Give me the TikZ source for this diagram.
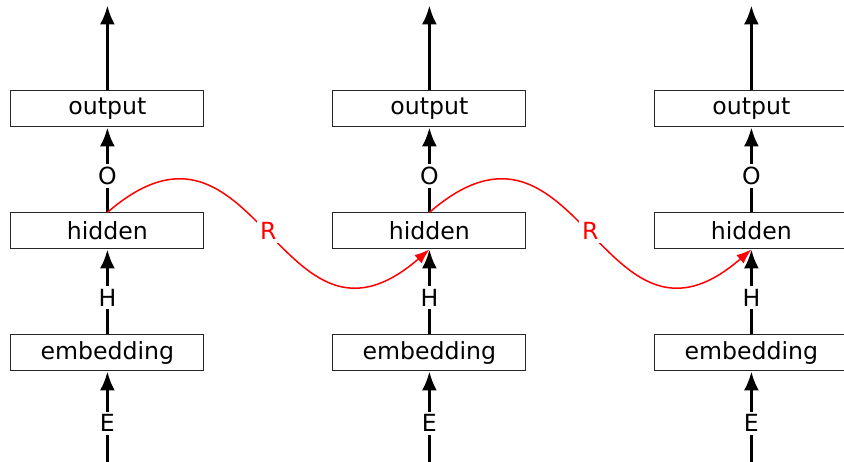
\documentclass[tikz,border=0pt]{standalone}
\usepackage{fontspec}
\setmainfont{DejaVu Sans}
\usetikzlibrary{arrows.meta, graphs}

\begin{document}
\begin{tikzpicture}
    [
        x=0.5pt, y=-0.5pt,
        font=\fontsize{11.8}{14}\selectfont,
        >={Latex[length=9.5pt,width=7.5pt]},
        layer/.style = {
                draw=black!85,
                line width=0.5pt,
                rectangle,
                minimum width=96.5pt,
                minimum height=18pt,
                align=center
            },
        flow/.style = {line width=1.5pt},
        tag/.style = {fill=white, inner sep=1.5pt, pos=0.43},
        recur/.style = {red, line width=0.75pt, -{Latex[length=7.5pt,width=5.5pt]}},
    ]

    \useasboundingbox (0,0) rectangle (844,461);

    \matrix[row sep=42.5pt, column sep=64pt, inner sep=0pt, matrix anchor=north west] at (10,5) {
        \coordinate (t1);                 &
        \coordinate (t2);                 &
        \coordinate (t3);                 \\
        \node [layer] (o1) {output};      &
        \node [layer] (o2) {output};      &
        \node [layer] (o3) {output};      \\
        \node [layer] (h1) {hidden};      &
        \node [layer] (h2) {hidden};      &
        \node [layer] (h3) {hidden};      \\
        \node [layer] (e1) {embedding};   &
        \node [layer] (e2) {embedding};   &
        \node [layer] (e3) {embedding};   \\[3pt]
        \coordinate (b1);                 &
        \coordinate (b2);                 &
        \coordinate (b3);                 \\
    };

    \graph[use existing nodes, edges={flow}] {
        b1 ->[edge node={node[tag]{E}}] e1 ->[edge node={node[tag]{H}}] h1 ->[edge node={node[tag]{O}}] o1 -> t1;
        b2 ->[edge node={node[tag]{E}}] e2 ->[edge node={node[tag]{H}}] h2 ->[edge node={node[tag]{O}}] o2 -> t2;
        b3 ->[edge node={node[tag]{E}}] e3 ->[edge node={node[tag]{H}}] h3 ->[edge node={node[tag]{O}}] o3 -> t3;
    };

    % recurrent links
    \draw[recur] (h1.north) .. controls +(150,-130) and +(-150,130) .. (h2.south)
        node[pos=0.5, fill=white, inner sep=1.5pt] (r1) {R};
    \draw[recur] (h2.north) .. controls +(150,-130) and +(-150,130) .. (h3.south)
        node[pos=0.5, fill=white, inner sep=1.5pt] (r2) {R};

\end{tikzpicture}
\end{document}
